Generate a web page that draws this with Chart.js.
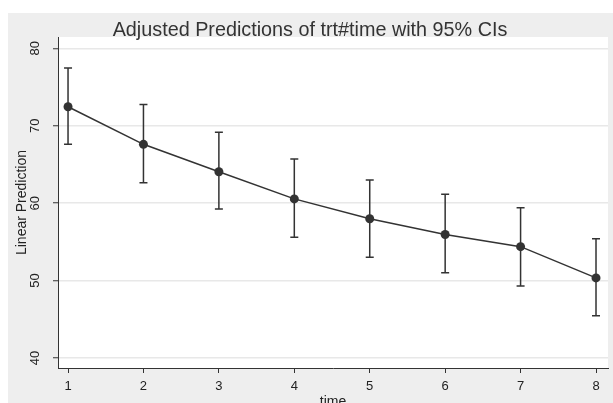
<!DOCTYPE html>
<html>
<head>
<meta charset="utf-8">
<script src="https://cdn.jsdelivr.net/npm/chart.js@4.4.1/dist/chart.umd.min.js"></script>
<style>
  html, body { margin: 0; padding: 0; background: #ffffff; }
  #wrap { width: 613px; height: 403px; }
</style>
</head>
<body>
<div id="wrap"><canvas id="chart" width="613" height="403"></canvas></div>
<script>
// valores
const times = [1, 2, 3, 4, 5, 6, 7, 8];
const predictions = [72.45, 67.6, 64.05, 60.55, 57.98, 55.95, 54.38, 50.35];
const lowerCI = [67.6, 62.65, 59.25, 55.6, 53.0, 51.0, 49.3, 45.45];
const upperCI = [77.45, 72.75, 69.15, 65.7, 63.0, 61.15, 59.4, 55.4];
const xTicks = [1, 2, 3, 4, 5, 6, 7, 8];
const yTicks = [40, 50, 60, 70, 80];

const dark = '#333333';

Chart.defaults.font.family = "'Liberation Sans', Arial, sans-serif";
Chart.defaults.color = '#222222';

// fundo cinza e área do gráfico branca
const backgroundPlugin = {
    id: 'background',
    beforeDraw(chart) {
        const ctx = chart.ctx;
        const a = chart.chartArea;
        ctx.save();
        ctx.fillStyle = '#ffffff';
        ctx.fillRect(0, 0, chart.width, chart.height);
        ctx.fillStyle = '#eeeeee';
        ctx.fillRect(8, 13, chart.width - 8, chart.height - 13);
        ctx.fillStyle = '#ffffff';
        ctx.fillRect(a.left, a.top, a.right - a.left, a.bottom - a.top);
        ctx.restore();
    }
};

// barras de erro (IC 95%)
const errorBarPlugin = {
    id: 'errorBars',
    beforeDatasetsDraw(chart) {
        const ctx = chart.ctx;
        const xs = chart.scales.x;
        const ys = chart.scales.y;
        const cap = 4;
        ctx.save();
        ctx.strokeStyle = dark;
        ctx.lineWidth = 1.5;
        times.forEach(function(t, i) {
            const px = xs.getPixelForValue(t);
            const lo = ys.getPixelForValue(lowerCI[i]);
            const hi = ys.getPixelForValue(upperCI[i]);
            ctx.beginPath();
            ctx.moveTo(px, lo);
            ctx.lineTo(px, hi);
            ctx.moveTo(px - cap, lo);
            ctx.lineTo(px + cap, lo);
            ctx.moveTo(px - cap, hi);
            ctx.lineTo(px + cap, hi);
            ctx.stroke();
        });
        ctx.restore();
    }
};

const ctx = document.getElementById('chart').getContext('2d');

new Chart(ctx, {
    type: 'line',
    data: {
        datasets: [{
            data: times.map((t, i) => ({ x: t, y: predictions[i] })),
            borderColor: dark,
            borderWidth: 1.5,
            backgroundColor: dark,
            pointBackgroundColor: dark,
            pointBorderColor: dark,
            pointRadius: 4.5,
            pointBorderWidth: 0,
            tension: 0
        }]
    },
    options: {
        responsive: false,
        animation: false,
        layout: { padding: { left: 12, right: 5, top: 0, bottom: 0 } },
        plugins: {
            legend: { display: false },
            tooltip: { enabled: false },
            title: {
                display: true,
                text: 'Adjusted Predictions of trt#time with 95% CIs',
                color: dark,
                font: { size: 19.8, weight: 'normal', lineHeight: 1 },
                padding: { top: 21, bottom: -3.8 }
            }
        },
        scales: {
            x: {
                type: 'linear',
                min: 0.867,
                max: 8.159,
                afterBuildTicks(scale) {
                    scale.ticks = xTicks.map(v => ({ value: v }));
                },
                afterFit(scale) {
                    scale.height = 35;
                },
                grid: {
                    drawOnChartArea: false,
                    tickLength: 5,
                    tickColor: dark,
                    tickWidth: 1
                },
                border: { display: true, color: dark, width: 1 },
                ticks: {
                    font: { size: 13 },
                    padding: 6,
                    maxRotation: 0,
                    callback: v => String(v)
                },
                title: {
                    display: true,
                    text: 'time',
                    font: { size: 14, lineHeight: 1 },
                    padding: { top: 0, bottom: -6 }
                }
            },
            y: {
                type: 'linear',
                min: 38.71,
                max: 81.46,
                afterBuildTicks(scale) {
                    scale.ticks = yTicks.map(v => ({ value: v }));
                },
                afterFit(scale) {
                    scale.width = 46;
                },
                grid: {
                    drawOnChartArea: true,
                    color: '#e8e8e8',
                    lineWidth: 1.5,
                    tickLength: 5,
                    tickColor: dark,
                    tickWidth: 1
                },
                border: { display: true, color: dark, width: 1 },
                ticks: {
                    font: { size: 13 },
                    padding: 10,
                    minRotation: 90,
                    maxRotation: 90,
                    crossAlign: 'center',
                    callback: v => String(v)
                },
                title: {
                    display: true,
                    text: 'Linear Prediction',
                    font: { size: 14, lineHeight: 1 },
                    padding: { top: 3, bottom: 0 }
                }
            }
        }
    },
    plugins: [backgroundPlugin, errorBarPlugin]
});
</script>
</body>
</html>
